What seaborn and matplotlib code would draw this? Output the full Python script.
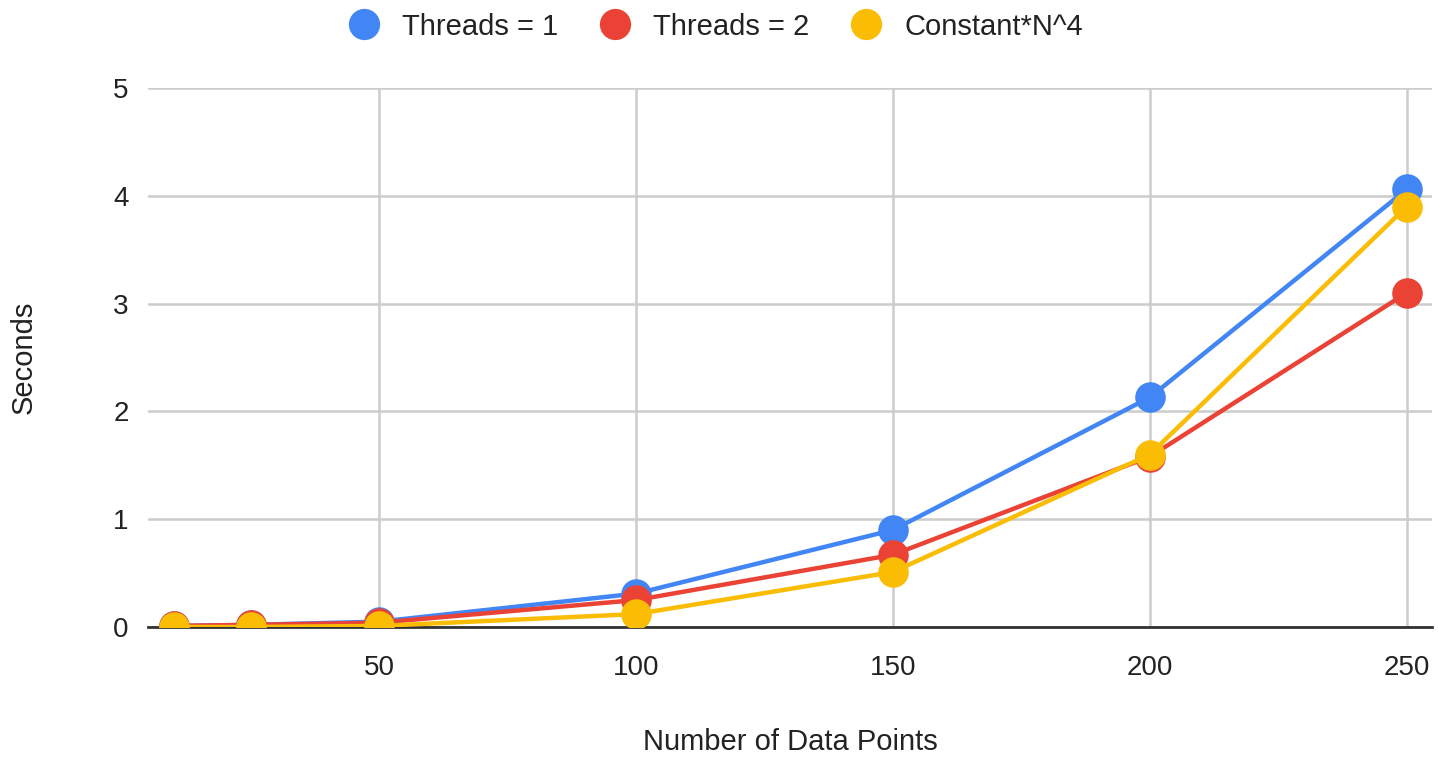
import pandas as pd
import seaborn as sns
import matplotlib.pyplot as plt
from matplotlib.lines import Line2D

n_points = [10, 25, 50, 100, 150, 200, 250]
threads_1 = [0.01, 0.02, 0.05, 0.31, 0.90, 2.13, 4.06]
threads_2 = [0.01, 0.02, 0.04, 0.25, 0.67, 1.58, 3.10]
const_n4 = [0.00, 0.00, 0.01, 0.12, 0.51, 1.60, 3.90]
series = ['Threads = 1', 'Threads = 2', 'Constant*N^4']
colors = ['#4285F4', '#EA4335', '#FBBC04']

df = pd.DataFrame({
    'N': n_points * 3,
    'Seconds': threads_1 + threads_2 + const_n4,
    'Series': [s for s in series for _ in n_points],
})

sns.set_style('white')
plt.rcParams['font.family'] = ['Liberation Sans', 'DejaVu Sans']

fig = plt.figure(figsize=(14.38, 7.6), dpi=100)
ax = fig.add_axes([0.103, 0.175, 0.893, 0.709])

sns.lineplot(data=df, x='N', y='Seconds', hue='Series', hue_order=series,
             palette=colors, marker='o', markersize=22, markeredgewidth=0,
             linewidth=3.2, legend=False, ax=ax, zorder=3)

ax.set_xlim(5, 255)
ax.set_ylim(0, 5)
ax.set_xticks([50, 100, 150, 200, 250])
ax.set_yticks([0, 1, 2, 3, 4, 5])
ax.grid(True, color='#cccccc', linewidth=1.8)
ax.set_axisbelow(True)
for side in ['top', 'right', 'left']:
    ax.spines[side].set_visible(False)
ax.spines['bottom'].set_color('#333333')
ax.spines['bottom'].set_linewidth(2)
ax.spines['bottom'].set_zorder(2)
ax.tick_params(axis='both', length=0, labelsize=20, colors='#222222', pad=14)
ax.tick_params(axis='x', pad=20)

ax.set_xlabel('Number of Data Points', fontsize=21, color='#222222', labelpad=34)
ax.set_ylabel('Seconds', fontsize=21, color='#222222', labelpad=54)

handles = [Line2D([], [], linestyle='none', marker='o', markersize=22.5,
                  markerfacecolor=c, markeredgewidth=0) for c in colors]
fig.legend(handles, series, loc='upper center', bbox_to_anchor=(0.497, 1.018),
           ncol=3, frameon=False, fontsize=21, handletextpad=0.7,
           columnspacing=1.35, handlelength=1.2, labelcolor='#222222')

plt.savefig('out.png', dpi=100)
